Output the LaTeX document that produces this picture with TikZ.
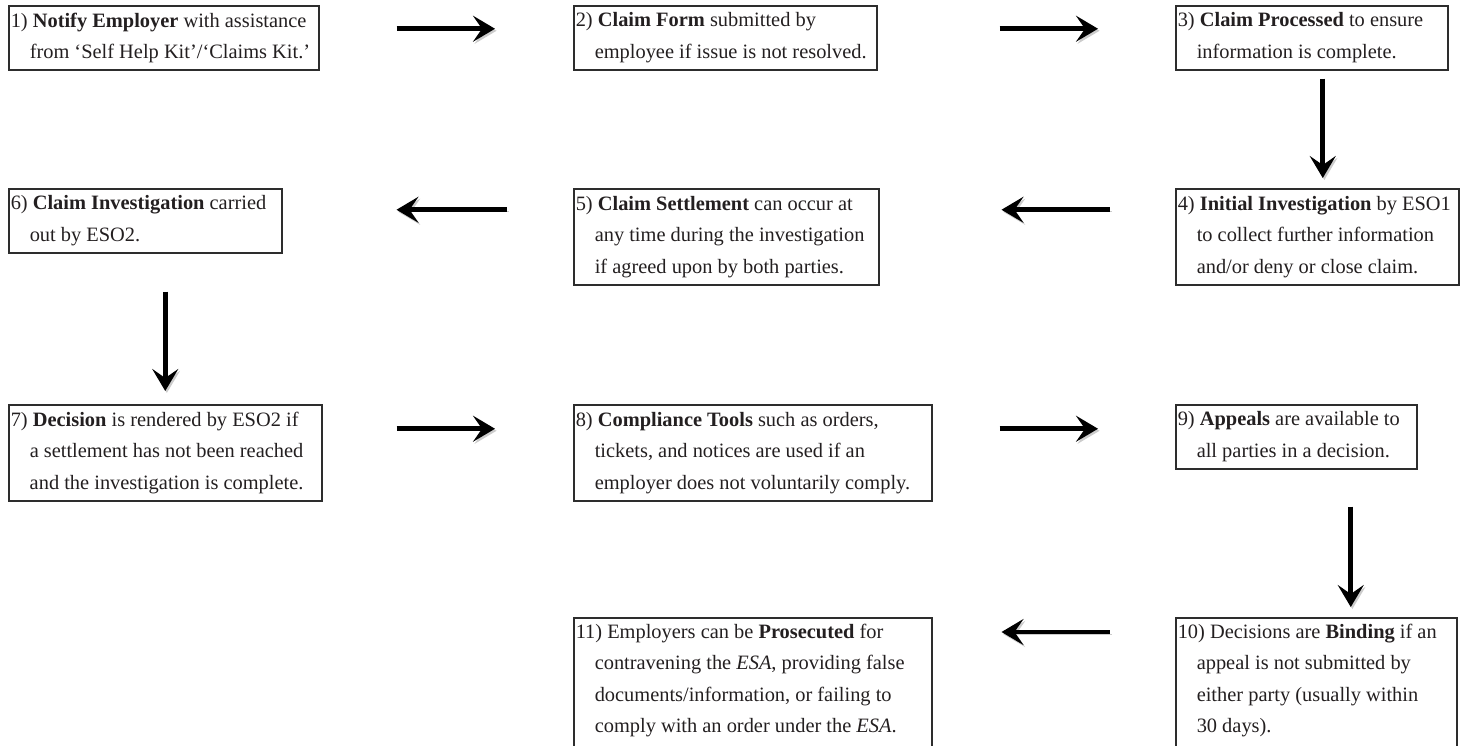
\documentclass[tikz,border=0pt]{standalone}
\usepackage{fontspec}
\setmainfont{Liberation Serif}
\usetikzlibrary{arrows.meta}
\definecolor{boxedge}{RGB}{45,45,45}
\definecolor{ink}{RGB}{35,31,32}
\newcommand{\stagefont}{\fontsize{10.2}{15.75}\selectfont}
\newcommand{\hangin}{\hspace*{9.5pt}}
\newcommand{\firstln}[2]{\makebox[#1][l]{#2}}
\tikzset{
  stagebox/.style={draw=boxedge, line width=0.75pt, anchor=north west, align=left,
                   inner xsep=1pt, inner ysep=3pt, font=\stagefont, text=ink},
  twoline/.style={minimum height=32pt},
  threeline/.style={minimum height=48pt},
  flowarr/.style={-{Stealth[length=11pt,width=13pt,inset=4.5pt]}, line width=2.4pt, black,
                  preaction={draw=black!20, transform canvas={shift={(0.8pt,-1pt)}}}},
}

\begin{document}
\begin{tikzpicture}[x=0.5pt, y=-0.5pt]
    \useasboundingbox (0,0) rectangle (1466,745);
    \clip (0,0) rectangle (1466,745);
    \node[stagebox, twoline] (s1) at (8,5)
      {\firstln{153pt}{1) \textbf{Notify Employer} with assistance}\\ \hangin from ‘Self Help Kit’/‘Claims Kit.’};
    \node[stagebox, twoline] (s2) at (573,5)
      {\firstln{149.5pt}{2) \textbf{Claim Form} submitted by}\\ \hangin employee if issue is not resolved.};
    \node[stagebox, twoline] (s3) at (1175,5)
      {\firstln{134pt}{3) \textbf{Claim Processed} to ensure}\\ \hangin information is complete.};
    \node[stagebox, threeline] (s4) at (1175,188)
      {\firstln{139.5pt}{4) \textbf{Initial Investigation} by ESO1}\\ \hangin to collect further information\\ \hangin and/or deny or close claim.};
    \node[stagebox, threeline] (s5) at (573,188)
      {\firstln{150.5pt}{5) \textbf{Claim Settlement} can occur at}\\ \hangin any time during the investigation\\ \hangin if agreed upon by both parties.};
    \node[stagebox, twoline] (s6) at (8,188)
      {\firstln{134.5pt}{6) \textbf{Claim Investigation} carried}\\ \hangin out by ESO2.};
    \node[stagebox, threeline] (s7) at (8,404)
      {\firstln{154.5pt}{7) \textbf{Decision} is rendered by ESO2 if}\\ \hangin a settlement has not been reached\\ \hangin and the investigation is complete.};
    \node[stagebox, threeline] (s8) at (573,404)
      {\firstln{177pt}{8) \textbf{Compliance Tools} such as orders,}\\ \hangin tickets, and notices are used if an\\ \hangin employer does not voluntarily comply.};
    \node[stagebox, twoline] (s9) at (1175,404)
      {\firstln{118.5pt}{9) \textbf{Appeals} are available to}\\ \hangin all parties in a decision.};
    \node[stagebox] (s10) at (1175,617)
      {\firstln{138.5pt}{10) Decisions are \textbf{Binding} if an}\\ \hangin appeal is not submitted by\\ \hangin either party (usually within\\ \hangin 30 days).\\ \mbox{}};
    \node[stagebox] (s11) at (573,617)
      {\firstln{177pt}{11) Employers can be \textbf{Prosecuted} for}\\ \hangin contravening the \emph{ESA}, providing false\\ \hangin documents/information, or failing to\\ \hangin comply with an order under the \emph{ESA}.\\ \mbox{}};

    \draw[flowarr, shorten <=38.5pt, shorten >=39pt] ([yshift=4.5pt]s1.east) -- ([yshift=4.5pt]s1.east -| s2.west);
    \draw[flowarr, shorten <=61pt, shorten >=38.5pt] ([yshift=4.5pt]s2.east) -- ([yshift=4.5pt]s2.east -| s3.west);
    \draw[flowarr, shorten <=4pt, shorten >=5pt] ([xshift=5.5pt]s3.south) -- ([xshift=5.5pt]s3.south |- s4.north);
    \draw[flowarr, shorten <=32.5pt, shorten >=61pt] ([yshift=13.5pt]s4.west) -- ([yshift=13.5pt]s4.west -| s5.east);
    \draw[flowarr, shorten <=33pt, shorten >=57pt] ([yshift=13.5pt]s5.west) -- ([yshift=13.5pt]s5.west -| s6.east);
    \draw[flowarr, shorten <=19pt, shorten >=6.5pt] (s7.north |- s6.south) -- (s7.north);
    \draw[flowarr, shorten <=37pt, shorten >=39pt] ([yshift=12pt]s7.east) -- ([yshift=12pt]s7.east -| s8.west);
    \draw[flowarr, shorten <=33.5pt, shorten >=38.5pt] ([yshift=12pt]s8.east) -- ([yshift=12pt]s8.east -| s9.west);
    \draw[flowarr, shorten <=18.5pt, shorten >=5pt] ([xshift=27.25pt]s9.south) -- ([xshift=27.25pt]s9.south |- s10.north);
    \draw[flowarr, shorten <=32.5pt, shorten >=34.5pt] ([yshift=-7.5pt]s11.north east -| s10.west) -- ([yshift=-7.5pt]s11.north east);
\end{tikzpicture}
\end{document}
